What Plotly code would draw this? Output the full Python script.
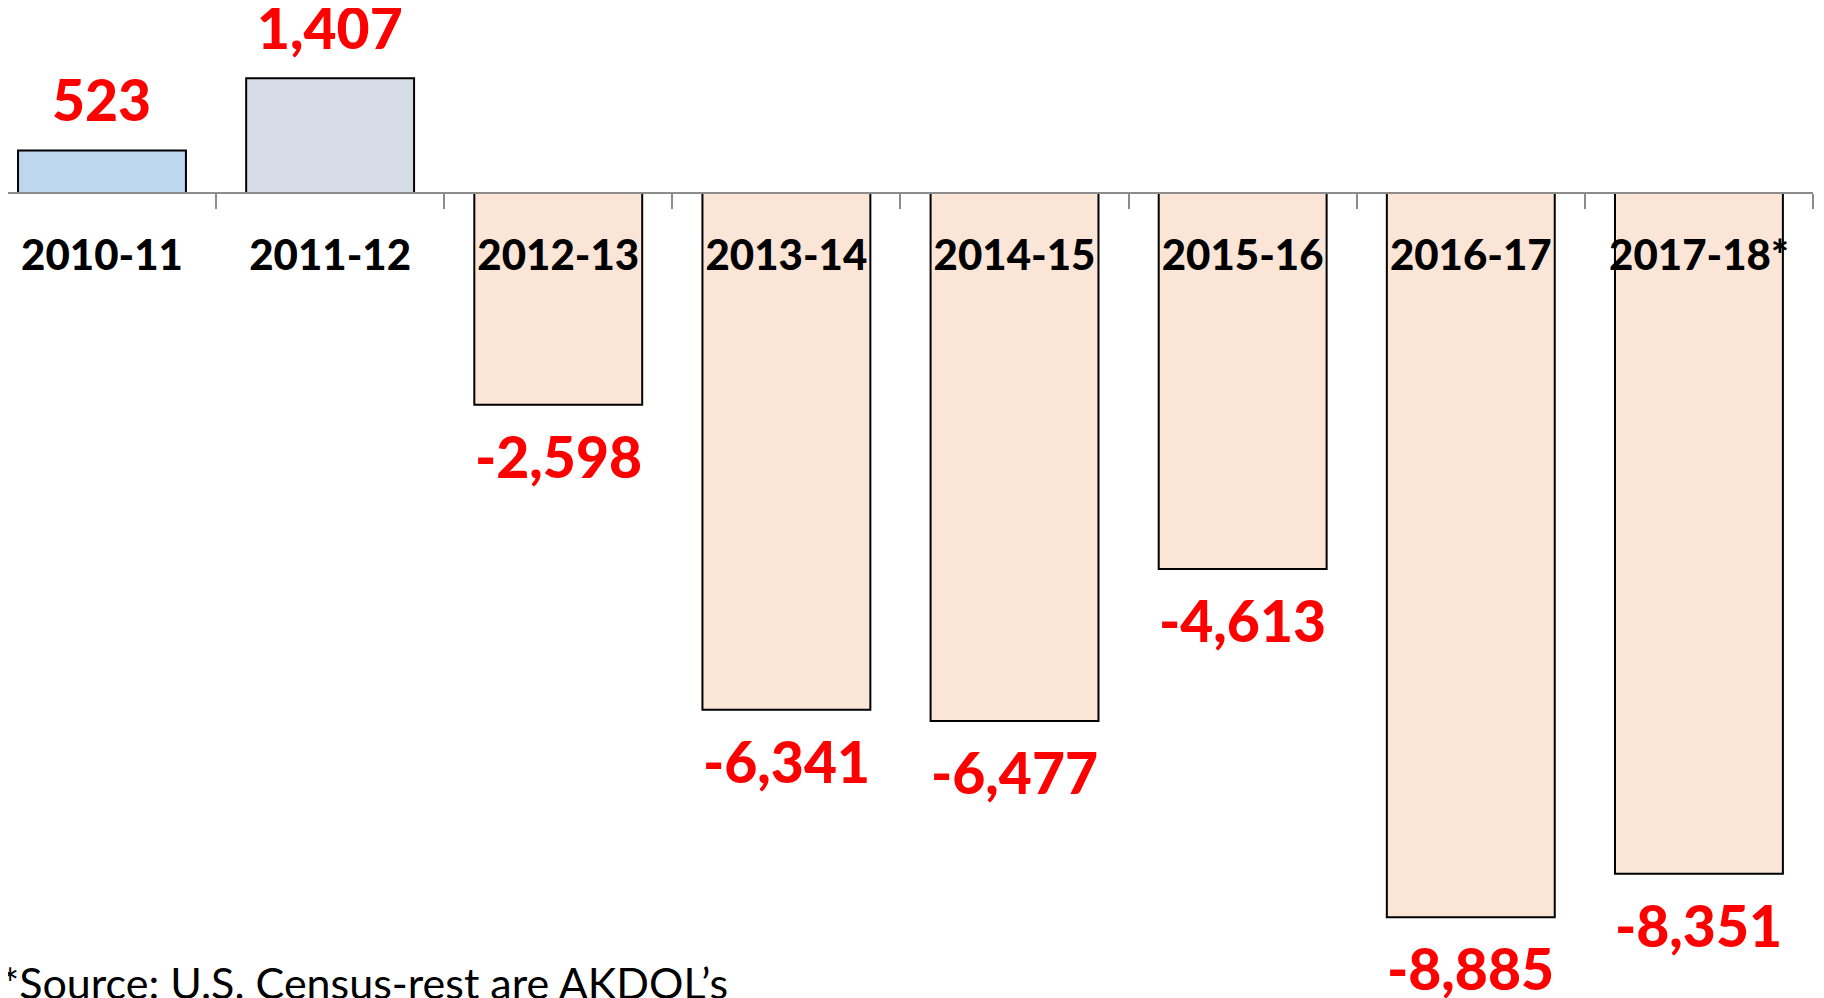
import plotly.graph_objects as go

categories = ["2010-11", "2011-12", "2012-13", "2013-14", "2014-15", "2015-16", "2016-17", "2017-18*"]
net_change = [523, 1407, -2598, -6341, -6477, -4613, -8885, -8351]
bar_colors = ["#BDD7EE", "#D6DCE5", "#FBE5D6", "#FBE5D6", "#FBE5D6", "#FBE5D6", "#FBE5D6", "#FBE5D6"]
source_note = "*Source: U.S. Census-rest are AKDOL’s"

# the page body has an 8px margin, so the figure is sized/offset for that
YMIN, YMAX = -9877, 2270
FONT = "Lato"

fig = go.Figure()
fig.add_trace(go.Bar(
    x=categories, y=net_change,
    marker=dict(color=bar_colors, line=dict(color="#000000", width=2)),
    width=0.736, hoverinfo="x+y",
))

for c, v in zip(categories, net_change):
    fig.add_annotation(
        x=c, y=v, xref="x", yref="y",
        text=f"{v:,}", showarrow=False,
        yanchor="middle", yshift=51 if v > 0 else -51,
        font=dict(family=FONT, size=57, color="#FF0000", weight=900),
    )

fig.add_annotation(
    x=0, y=0, xref="paper", yref="paper", xanchor="left", yanchor="bottom",
    text=source_note, showarrow=False, yshift=-12, xshift=-9,
    font=dict(family=FONT, size=43, color="#000000"),
)

base_pos = (0 - YMIN) / (YMAX - YMIN)
fig.update_layout(
    width=1816, height=990,
    margin=dict(l=0, r=11, t=0, b=0),
    paper_bgcolor="white", plot_bgcolor="white",
    showlegend=False,
    xaxis=dict(
        type="category", range=[-0.412, 7.5],
        anchor="free", position=base_pos,
        showline=True, linecolor="#8C8C8C", linewidth=1.5,
        ticks="outside", tickson="boundaries", ticklen=15, tickwidth=1.5, tickcolor="#8C8C8C",
        ticklabelstandoff=26,
        tickfont=dict(family=FONT, size=42, color="#000000", weight=900),
        showgrid=False, zeroline=False, layer="above traces",
    ),
    yaxis=dict(range=[YMIN, YMAX], visible=False, showgrid=False, zeroline=False),
)

fig.write_html("out.html")
